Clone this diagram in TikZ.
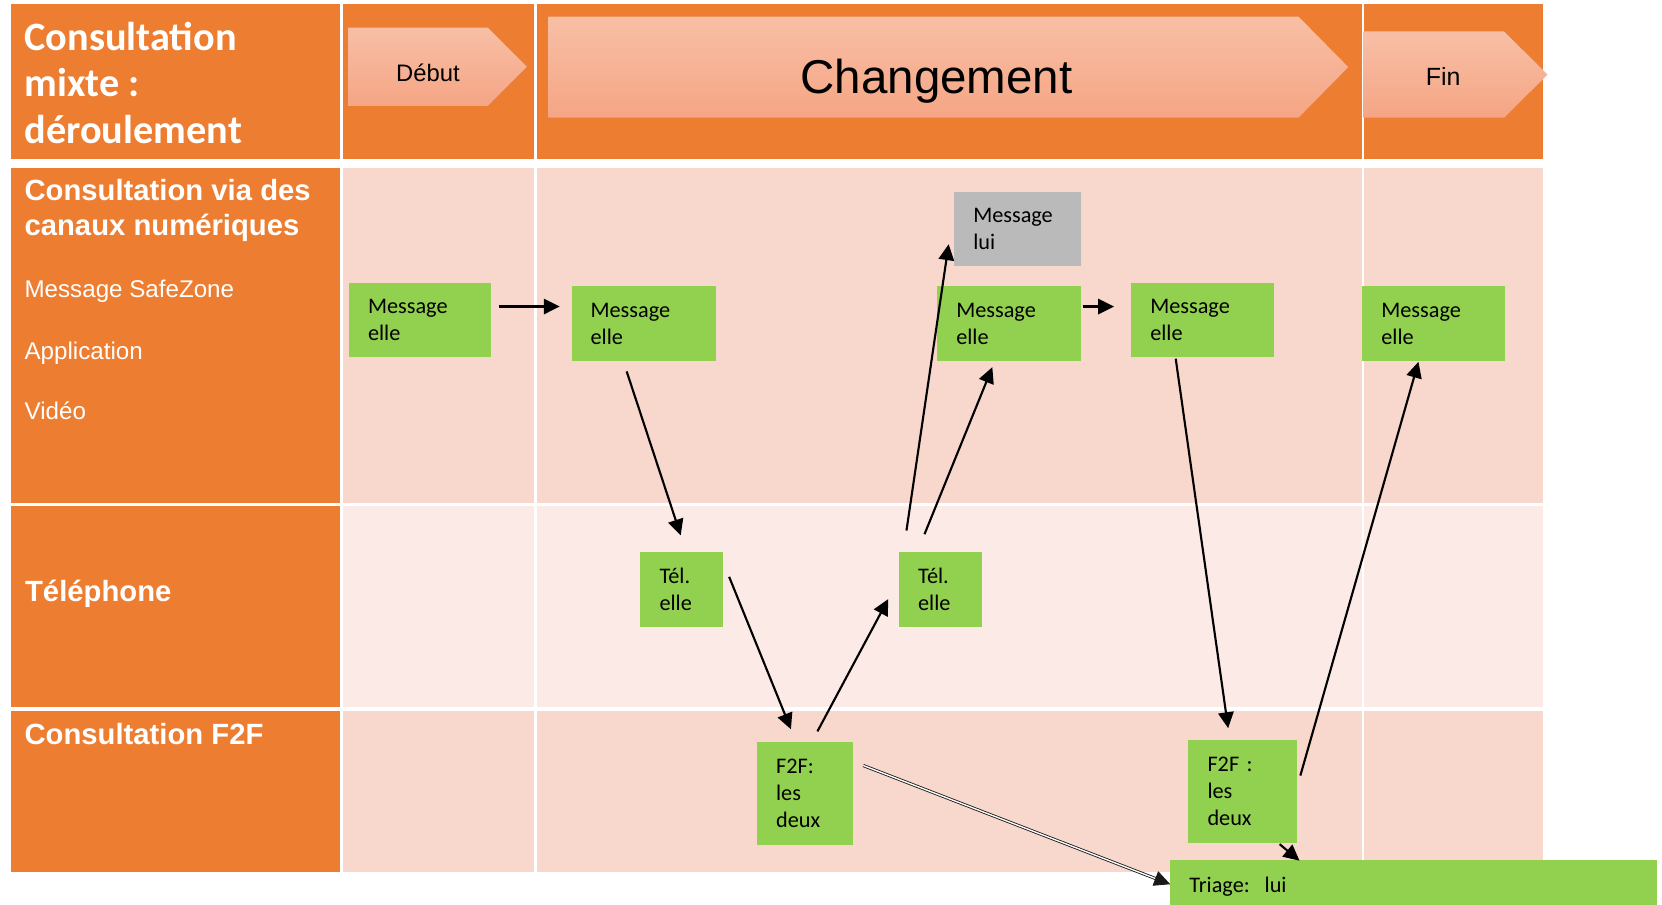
\documentclass[tikz,border=0pt]{standalone}
\usepackage{fontspec}
\setmainfont{Carlito}
\newfontfamily\arialf{Liberation Sans}
\usetikzlibrary{arrows.meta}
\definecolor{orng}{HTML}{ED7D31}
\definecolor{peachA}{HTML}{F8D7CC}
\definecolor{peachB}{HTML}{FBEAE6}
\definecolor{grn}{HTML}{92D050}
\definecolor{gry}{HTML}{BABABA}
\definecolor{chevtop}{HTML}{F8BFA6}
\definecolor{chevbot}{HTML}{F5A584}
\begin{document}
\begin{tikzpicture}[x=1pt,y=-1pt,
  bx/.style n args={3}{anchor=north west, inner xsep=18pt, inner ysep=0pt,
    align=left, text=black, font=\fontsize{21}{25.4}\selectfont,
    minimum width=#1, text width=#2, minimum height=#3},
  gbox/.style n args={3}{bx={#1}{#2}{#3}, fill=grn},
  greybox/.style n args={3}{bx={#1}{#2}{#3}, fill=gry},
  titlelbl/.style={anchor=base west, inner sep=0pt, text=white, font=\fontsize{38}{44}\selectfont\bfseries},
  rowlbl/.style={anchor=base west, inner sep=0pt, text=white, font=\arialf\fontsize{27.6}{33}\selectfont\bfseries},
  sublbl/.style={anchor=base west, inner sep=0pt, text=white, font=\arialf\fontsize{22.8}{26}\selectfont},
  chev/.style={top color=chevtop, bottom color=chevbot, draw=none},
  chevtxt/.style={inner sep=0pt, text=black},
  arr/.style={-{Triangle[length=15pt,width=14.5pt]}, line width=2pt, draw=black},
  dblarr/.style={double, double distance=1.3pt, line width=0.8pt, draw=black!90,
    -{Triangle[length=15pt,width=14.5pt]}}
]
\useasboundingbox (0,0) rectangle (1568,853);
\clip (0,0) rectangle (1568,853);
\fill[white] (0,0) rectangle (1568,853);

% ---- table cells ----
% header row
\fill[orng] (10,4.1) rectangle (320.7,150.3);
\fill[orng] (323.5,4.1) rectangle (503.8,150.3);
\fill[orng] (506.5,4.1) rectangle (1284.5,150.3);
\fill[orng] (1287,4.1) rectangle (1455.3,150.3);
% row 2
\fill[orng] (10,158.2) rectangle (320.7,474.8);
\fill[peachA] (323.5,158.2) rectangle (503.8,474.8);
\fill[peachA] (506.5,158.2) rectangle (1284.5,474.8);
\fill[peachA] (1287,158.2) rectangle (1455.3,474.8);
% row 3
\fill[orng] (10,477) rectangle (320.7,667.3);
\fill[peachB] (323.5,477) rectangle (503.8,667.3);
\fill[peachB] (506.5,477) rectangle (1284.5,667.3);
\fill[peachB] (1287,477) rectangle (1455.3,667.3);
% row 4
\fill[orng] (10,670.4) rectangle (320.7,823);
\fill[peachA] (323.5,670.4) rectangle (503.8,823);
\fill[peachA] (506.5,670.4) rectangle (1284.5,823);
\fill[peachA] (1287,670.4) rectangle (1455.3,823);

% ---- header chevrons ----
\path[chev] (329,26) -- (460,26) -- (497,63) -- (460,100) -- (329,100) -- cycle;
\path[chev] (517.5,15.6) -- (1225,15.6) -- (1272,63.3) -- (1225,111) -- (517.5,111) -- cycle;
\path[chev] (1286,29.7) -- (1419,29.7) -- (1460,70.4) -- (1419,111) -- (1286,111) -- cycle;
\node[chevtxt, anchor=base west, font=\arialf\fontsize{22.5}{26}\selectfont] (debut) at (373.5,77) {Début};
\node[chevtxt, anchor=base, font=\arialf\fontsize{44.8}{50}\selectfont] (chgt) at (883.5,88) {Changement};
\node[chevtxt, anchor=base west, font=\arialf\fontsize{23.5}{27}\selectfont] (fin) at (1345,81) {Fin};

% ---- left column labels ----
\node[titlelbl] (t1l) at (23,47.2) {Consultation};
\node[titlelbl] (t2l) at (23,91.2) {mixte :};
\node[titlelbl] (t3l) at (23,135.8) {déroulement};
\node[rowlbl] (r2a) at (23,189.6) {Consultation via des};
\node[rowlbl] (r2b) at (23,222.6) {canaux numériques};
\node[sublbl] (s1) at (23,280.5) {Message SafeZone};
\node[sublbl] (s2) at (23,339) {Application};
\node[sublbl] (s3) at (23,395.6) {Vidéo};
\node[rowlbl] (r3) at (23.5,567.6) {Téléphone};
\node[rowlbl] (r4) at (23,702.8) {Consultation F2F};

% ---- boxes ----
\node[gbox={134pt}{98pt}{70pt}] (m1) at (329,267) {Message\\elle};
\node[gbox={136pt}{100pt}{70pt}] (m2) at (539,270) {Message\\elle};
\node[greybox={120pt}{84pt}{70pt}] (g) at (900,181) {Message\\lui};
\node[gbox={136pt}{100pt}{70pt}] (m3) at (884,270) {Message\\elle};
\node[gbox={135pt}{99pt}{70pt}] (m4) at (1067,267) {Message\\elle};
\node[gbox={135pt}{99pt}{70pt}] (m5) at (1285,270) {Message\\elle};
\node[gbox={78pt}{42pt}{70pt}] (t1) at (604,521) {Tél.\\elle};
\node[gbox={78pt}{42pt}{70pt}] (t2) at (848,521) {Tél.\\elle};
\node[gbox={91pt}{55pt}{97pt}] (f1) at (714,700) {F2F:\\les\\deux};
\node[gbox={102pt}{66pt}{97pt}] (f2) at (1121,698) {F2F :\\les\\deux};
\node[gbox={459pt}{423pt}{50pt}] (tri) at (1104,811) {Triage:\ \ lui};

% ---- connectors ----
\draw[arr] ([shift={(7,-13)}]m1.east) -- ([shift={(-11,-16)}]m2.west);
\draw[arr] ([shift={(-16,10)}]m2.south) -- ([shift={(-1,-16)}]t1.north);
\draw[arr] ([shift={(5.5,-12)}]t1.east) -- ([shift={(-13.5,-12)}]f1.north);
\draw[arr] ([shift={(11.5,-10)}]f1.north) -- ([shift={(-10,9)}]t2.west);
\draw[arr] ([shift={(-32,-20.5)}]t2.north) -- ([shift={(-5,-21)}]g.south west);
\draw[arr] ([shift={(-15,-17)}]t2.north) -- ([shift={(-16,6)}]m3.south);
\draw[arr] ([shift={(1,-16)}]m3.east) -- ([shift={(-16,-13)}]m4.west);
\draw[arr] ([shift={(-25.5,1)}]m4.south) -- ([shift={(-13.5,-11)}]f2.north);
\draw[arr] ([shift={(3.4,-15)}]f2.east) -- ([shift={(-14.5,1)}]m5.south);
\draw[dblarr] ([shift={(9,-26.5)}]f1.east) -- ([shift={(0,-2)}]tri.west);
\draw[arr] ([shift={(35,1)}]f2.south) -- ([shift={(122,1)}]tri.north west);
\end{tikzpicture}
\end{document}
